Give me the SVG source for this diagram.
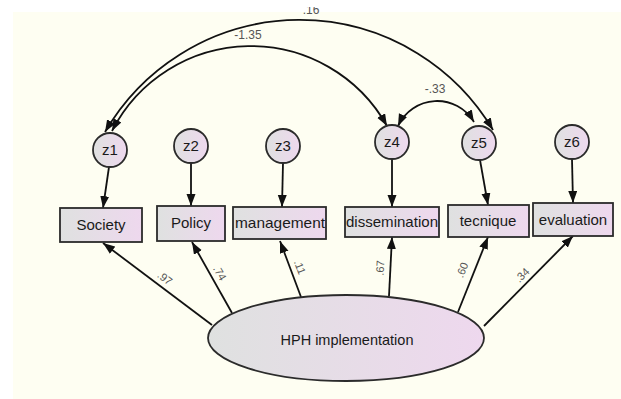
<svg xmlns="http://www.w3.org/2000/svg" width="621" height="399" viewBox="0 0 621 399">
<defs>
<linearGradient id="g" x1="0" y1="0" x2="1" y2="0">
<stop offset="0" stop-color="#dfe1e0"/>
<stop offset="1" stop-color="#eed8ee"/>
</linearGradient>
<marker id="ah" markerUnits="userSpaceOnUse" markerWidth="13" markerHeight="10" refX="12" refY="4.5" orient="auto-start-reverse">
<path d="M0,0 L12,4.5 L0,9 Z" fill="#111"/>
</marker>
<clipPath id="top"><rect x="0" y="7" width="621" height="392"/></clipPath>
<style>
.shape{fill:url(#g);stroke:#2b2b2b;stroke-width:1.8}
.lbl{font-family:"Liberation Sans",Arial,sans-serif;font-size:15px;fill:#1a1a1a;text-anchor:middle}
.num{font-family:"Liberation Sans",Arial,sans-serif;font-size:11px;fill:#555;text-anchor:middle}
.con{fill:none;stroke:#111;stroke-width:1.8}
.arr{marker-end:url(#ah)}
.both{marker-start:url(#ah);marker-end:url(#ah)}
</style>
</defs>
<rect x="0" y="0" width="621" height="399" fill="#ffffff"/>
<rect x="13" y="12" width="608" height="387" fill="#fefef2"/>

<g id="connectors">
<line class="con arr" x1="109" y1="167" x2="103" y2="208"/>
<line class="con arr" x1="191" y1="163" x2="191" y2="206"/>
<line class="con arr" x1="283" y1="163" x2="282" y2="207"/>
<line class="con arr" x1="392" y1="159" x2="392" y2="207"/>
<line class="con arr" x1="480" y1="160" x2="488" y2="205"/>
<line class="con arr" x1="572" y1="159" x2="573" y2="203"/>

<line class="con arr" x1="212" y1="325" x2="103" y2="243"/>
<line class="con arr" x1="232" y1="313" x2="192" y2="242"/>
<line class="con arr" x1="301" y1="297" x2="280" y2="241"/>
<line class="con arr" x1="389" y1="296" x2="392" y2="237"/>
<line class="con arr" x1="458" y1="312" x2="488" y2="237"/>
<line class="con arr" x1="484" y1="326" x2="573" y2="236"/>

<path class="con both" d="M112,131 A156,156 0 0 1 387,126"/>
<path class="con both" d="M105,132 A225,225 0 0 1 493,130"/>
<path class="con both" d="M398,126 A43,43 0 0 1 474,122"/>

<text class="num" x="248" y="39" style="font-size:12px">-1.35</text>
<text class="num" x="311" y="14" clip-path="url(#top)" style="font-size:12px">.16</text>
<text class="num" x="435" y="93" style="font-size:12px">-.33</text>

<text class="num" transform="translate(165,278) rotate(37)" x="0" y="4">.97</text>
<text class="num" transform="translate(220,273) rotate(60)" x="0" y="4">.74</text>
<text class="num" transform="translate(300,267) rotate(69)" x="0" y="4">.11</text>
<text class="num" transform="translate(380,268) rotate(-87)" x="0" y="4">.67</text>
<text class="num" transform="translate(462,270) rotate(-68)" x="0" y="4">.60</text>
<text class="num" transform="translate(522,275) rotate(-45)" x="0" y="4">.34</text>
</g>

<g id="z1"><circle class="shape" cx="110" cy="150" r="17"/><text class="lbl" x="110" y="155">z1</text></g>
<g id="z2"><circle class="shape" cx="191" cy="146" r="17"/><text class="lbl" x="191" y="151">z2</text></g>
<g id="z3"><circle class="shape" cx="283" cy="146" r="17"/><text class="lbl" x="283" y="151">z3</text></g>
<g id="z4"><circle class="shape" cx="392" cy="142" r="17"/><text class="lbl" x="392" y="147">z4</text></g>
<g id="z5"><circle class="shape" cx="479" cy="143" r="17"/><text class="lbl" x="479" y="148">z5</text></g>
<g id="z6"><circle class="shape" cx="572" cy="142" r="17"/><text class="lbl" x="572" y="147">z6</text></g>

<g id="society"><rect class="shape" x="60" y="208" width="82" height="34"/><text class="lbl" x="101" y="230">Society</text></g>
<g id="policy"><rect class="shape" x="157" y="206" width="68" height="35"/><text class="lbl" x="191" y="228">Policy</text></g>
<g id="management"><rect class="shape" x="233" y="207" width="93" height="32"/><text class="lbl" x="280" y="228" textLength="90" lengthAdjust="spacingAndGlyphs">management</text></g>
<g id="dissemination"><rect class="shape" x="345" y="207" width="94" height="30"/><text class="lbl" x="392" y="227" textLength="92" lengthAdjust="spacingAndGlyphs">dissemination</text></g>
<g id="tecnique"><rect class="shape" x="448" y="205" width="81" height="32"/><text class="lbl" x="488" y="226">tecnique</text></g>
<g id="evaluation"><rect class="shape" x="533" y="203" width="80" height="33"/><text class="lbl" x="573" y="225">evaluation</text></g>

<g id="hph"><ellipse class="shape" cx="346" cy="338" rx="138" ry="43"/><text class="lbl" x="347" y="345" style="font-size:14.5px">HPH implementation</text></g>
</svg>
